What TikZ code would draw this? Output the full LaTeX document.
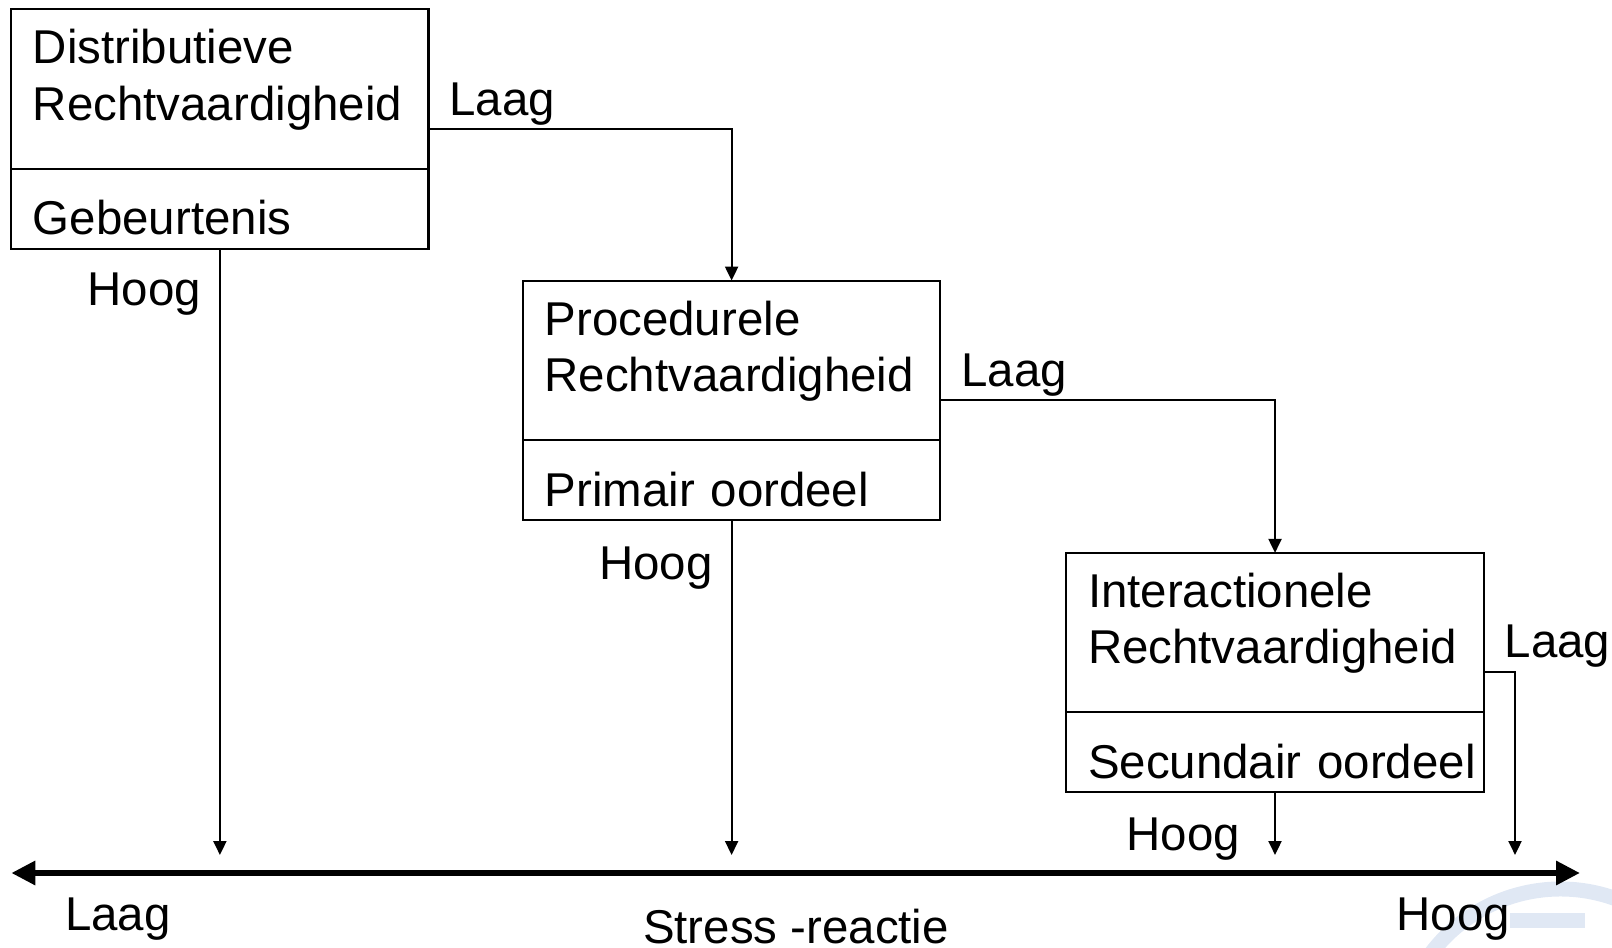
\documentclass[tikz,border=0pt]{standalone}
\usepackage{fontspec}
\setmainfont{Liberation Sans}
\usetikzlibrary{arrows.meta, positioning}
\definecolor{logoblue}{RGB}{224,232,244}
\tikzstyle{stress}=[line width=0.6pt, >={Triangle[length=1.4mm, width=1.3mm]},
  font=\fontsize{13.5pt}{16.1pt}\selectfont]
\tikzstyle{upper}=[draw, rectangle, outer sep=0pt, inner xsep=2.16mm, inner ysep=0pt,
  text width=37.4mm, align=left, text height=5.45mm, text depth=10.5mm]
\tikzstyle{lower}=[upper, text height=6.6mm, text depth=1.4mm]
\tikzstyle{lbl}=[inner sep=0pt]
\tikzstyle{axis}=[line width=1.7pt, {Triangle[length=2.4mm, width=2.3mm]}-{Triangle[length=2.4mm, width=2.3mm]}]

\begin{document}
\begin{tikzpicture}[stress]
  \useasboundingbox (0,0) rectangle (16.12,-9.48);
  % faint logo in the corner
  \draw[logoblue, line width=1.5mm] (14.20,-9.70) arc (150:15:1.62);
  \draw[logoblue, line width=1.5mm] (15.10,-9.20) -- (15.85,-9.20);

  \node[upper] (dist) [anchor=north west] at (0.113,-0.093) {Distributieve\\Rechtvaardigheid};
  \node[lower] (gebeurt) [below=0pt of dist] {Gebeurtenis};
  \node[upper] (proc) [below right=3.18mm and 9.45mm of gebeurt] {Procedurele\\Rechtvaardigheid};
  \node[lower] (primair) [below=0pt of proc] {Primair oordeel};
  \node[upper] (inter) [below right=3.28mm and 12.62mm of primair] {Interactionele\\Rechtvaardigheid};
  \node[lower] (secund) [below=0pt of inter] {\mbox{Secundair oordeel}};

  \coordinate (axL) at (0.113,-8.73);
  \coordinate (axR) at (15.80,-8.73);
  \coordinate (foot) at (0,-8.55);
  \coordinate (laagEnd) at (15.15,-8.55);

  \draw[->] ([yshift=4mm]dist.south east) node[lbl, anchor=base west, xshift=2mm, yshift=1.35mm] {Laag} -| (proc.north);
  \draw[->] ([yshift=4mm]proc.south east) node[lbl, anchor=base west, xshift=2mm, yshift=1.35mm] {Laag} -| (inter.north);
  \draw[->] ([yshift=4mm]inter.south east) node[lbl, anchor=base west, xshift=2mm, yshift=1.5mm] {Laag} -| (laagEnd);

  \draw[->] (gebeurt.south) node[lbl, anchor=base east, xshift=-1.8mm, yshift=-5.7mm] {Hoog} -- (gebeurt.south |- foot);
  \draw[->] (primair.south) node[lbl, anchor=base east, xshift=-1.8mm, yshift=-5.9mm] {Hoog} -- (primair.south |- foot);
  \draw[->] (secund.south) node[lbl, anchor=base east, xshift=-3.4mm, yshift=-5.8mm] {Hoog} -- (secund.south |- foot);

  \draw[axis] (axL) -- (axR);
  \node[lbl, anchor=base west] (low) at (0.64,-9.30) {Laag};
  \node[lbl, anchor=base] (reactie) at (7.96,-9.43) {Stress -reactie};
  \node[lbl, anchor=base east] (high) at (15.11,-9.30) {Hoog};
\end{tikzpicture}
\end{document}
